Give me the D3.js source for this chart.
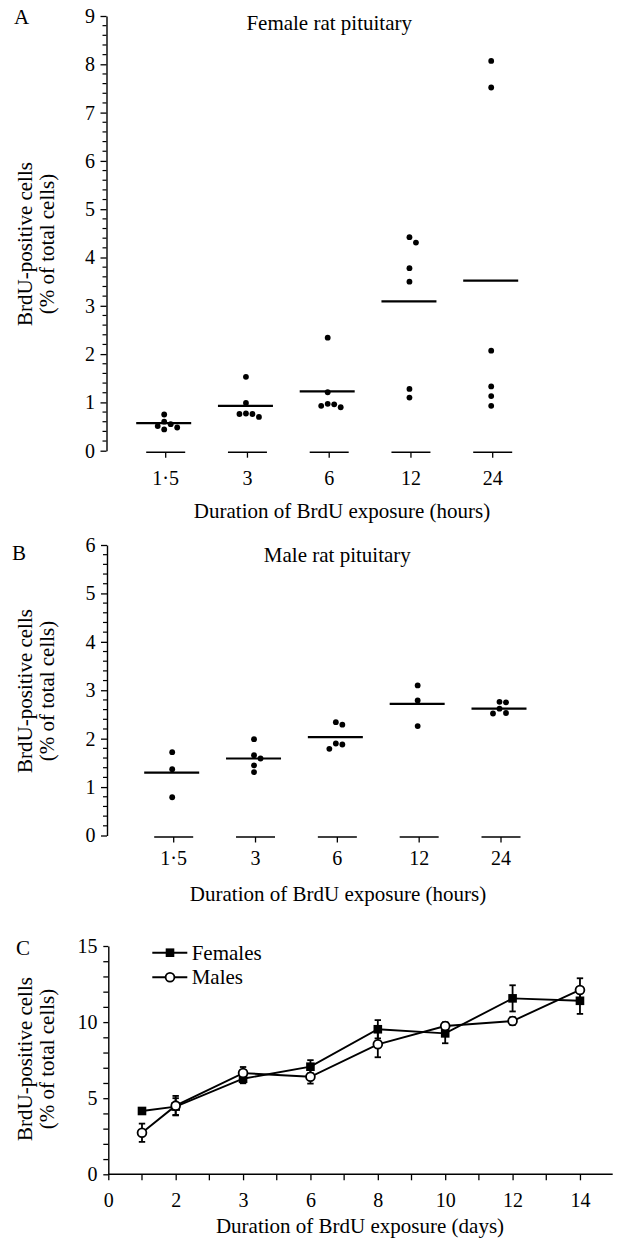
<!DOCTYPE html>
<html><head><meta charset="utf-8">
<script src="https://cdn.jsdelivr.net/npm/d3@7"></script>
<style>
body{margin:0;background:#fff}
text{font-family:"Liberation Serif","Times New Roman",serif;fill:#000}
</style></head>
<body><svg id="chart" width="621" height="1241"></svg>
<script>
// ---------- DATA ----------
const hourCats = ["1·5", "3", "6", "12", "24"];
const femaleValues = [
  [0.75, 0.60, 0.55, 0.51, 0.48, 0.44],
  [1.53, 0.99, 0.77, 0.76, 0.76, 0.70],
  [2.34, 1.21, 0.97, 0.96, 0.93, 0.90],
  [4.42, 4.31, 3.78, 3.50, 1.28, 1.10],
  [8.07, 7.52, 2.07, 1.33, 1.13, 0.93]
];
const femaleMeans = [0.57, 0.93, 1.23, 3.09, 3.52];
const maleValues = [
  [1.72, 1.37, 0.79],
  [1.99, 1.66, 1.59, 1.45, 1.31],
  [2.34, 2.29, 1.90, 1.88, 1.79],
  [3.10, 2.79, 2.26],
  [2.76, 2.75, 2.62, 2.53, 2.52]
];
const maleMeans = [1.30, 1.59, 2.03, 2.72, 2.62];
const yTicksA = [0, 1, 2, 3, 4, 5, 6, 7, 8, 9];
const yTicksB = [0, 1, 2, 3, 4, 5, 6];

const dayTicks = [0, 2, 3, 6, 8, 10, 12, 14];
const days = [1, 2, 3, 6, 8, 10, 12, 14];
const femaleTime = [4.16, 4.45, 6.28, 7.07, 9.53, 9.26, 11.56, 11.40];
const femaleTimeErr = [0.15, 0.55, 0.30, 0.43, 0.60, 0.65, 0.86, 0.86];
const maleTime = [2.73, 4.51, 6.65, 6.41, 8.54, 9.74, 10.07, 12.11];
const maleTimeErr = [0.60, 0.64, 0.40, 0.45, 0.85, 0.25, 0.25, 0.77];
const yTicksC = [0, 5, 10, 15];

// ---------- DRAW ----------
const svg = d3.select("#chart");
svg.append("rect").attr("width", 621).attr("height", 1241).attr("fill", "#fff");

function yTitle(cy) {
  svg.append("text").attr("transform", `translate(32,${cy}) rotate(-90)`)
    .attr("text-anchor", "middle").attr("font-size", 21).text("BrdU-positive cells");
  svg.append("text").attr("transform", `translate(53.5,${cy}) rotate(-90)`)
    .attr("text-anchor", "middle").attr("font-size", 21).text("(% of total cells)");
}

function dotPanel(cfg) {
  const g = svg.append("g");
  const y = d3.scaleLinear().domain([0, cfg.yMax]).range([cfg.y0, cfg.yTop]);
  const x = d3.scalePoint().domain(hourCats).range(cfg.xRange);

  // y axis
  const ax = g.append("g").attr("transform", `translate(${cfg.axisX},0)`)
    .call(d3.axisLeft(y).tickValues(cfg.ticks).tickFormat(d3.format("d"))
      .tickSize(6).tickSizeOuter(0).tickPadding(5.5));
  ax.selectAll("text").attr("font-size", 20).attr("font-family", "Liberation Serif");
  ax.select(".domain").attr("stroke-width", 1.4);
  ax.selectAll(".tick line").attr("stroke-width", 1.3);
  const minor = d3.range(0, cfg.yMax + 0.001, 0.2).filter(v => Math.abs(v - Math.round(v)) > 0.01);
  g.selectAll(".minor").data(minor).join("line")
    .attr("x1", cfg.axisX - 4).attr("x2", cfg.axisX)
    .attr("y1", d => y(d)).attr("y2", d => y(d))
    .attr("stroke", "#000").attr("stroke-width", 1.2);

  // baseline segments + ticks + labels
  hourCats.forEach((c, i) => {
    const cx = x(c), by = cfg.y0 + 1.5;
    g.append("line").attr("x1", cx - 19.5).attr("x2", cx + 19.5).attr("y1", by).attr("y2", by)
      .attr("stroke", "#000").attr("stroke-width", 1.4);
    g.append("line").attr("x1", cx).attr("x2", cx).attr("y1", by).attr("y2", by + 5.5)
      .attr("stroke", "#000").attr("stroke-width", 1.3);
    g.append("text").attr("x", cx).attr("y", cfg.y0 + cfg.labelOff).attr("text-anchor", "middle")
      .attr("font-size", 20).text(c);

    // beeswarm placement of the dots
    const vals = cfg.values[i].slice().sort((a, b) => b - a);
    const placed = [];
    const step = 6.5, minD = 6.2;
    vals.forEach(v => {
      const py = y(v);
      const cands = [0];
      for (let k = 1; k < 6; k++) { cands.push(k * step, -k * step); }
      let off = 0;
      for (const o of cands) {
        if (placed.every(p => Math.hypot(p.x - o, p.y - py) >= minD)) { off = o; break; }
      }
      placed.push({x: off, y: py});
    });
    g.selectAll(null).data(placed).join("circle")
      .attr("cx", d => cx + d.x - 1.5).attr("cy", d => d.y).attr("r", 2.9).attr("fill", "#000");

    // mean line
    g.append("line").attr("x1", cx - 29.5).attr("x2", cx + 25.5)
      .attr("y1", y(cfg.means[i])).attr("y2", y(cfg.means[i]))
      .attr("stroke", "#000").attr("stroke-width", 2.2);
  });

  svg.append("text").attr("x", x("6")).attr("y", cfg.titleY).attr("text-anchor", "middle")
    .attr("font-size", 21).text(cfg.title);
  svg.append("text").attr("x", cfg.xTitleX).attr("y", cfg.xTitleY).attr("text-anchor", "middle")
    .attr("font-size", 21).text("Duration of BrdU exposure (hours)");
  svg.append("text").attr("x", cfg.letterX).attr("y", cfg.letterY).attr("font-size", 21).text(cfg.letter);
  yTitle(cfg.yTitleY);
}

dotPanel({
  values: femaleValues, means: femaleMeans, ticks: yTicksA, yMax: 9,
  y0: 450.7, yTop: 16, axisX: 106.5, xRange: [165.7, 492.7], labelOff: 34.3,
  title: "Female rat pituitary", titleY: 30, xTitleX: 342, xTitleY: 517.5,
  letter: "A", letterX: 14, letterY: 23.5, yTitleY: 244
});
dotPanel({
  values: maleValues, means: maleMeans, ticks: yTicksB, yMax: 6,
  y0: 835.5, yTop: 545, axisX: 107, xRange: [173.7, 501], labelOff: 29.5,
  title: "Male rat pituitary", titleY: 561.5, xTitleX: 338, xTitleY: 900.5,
  letter: "B", letterX: 12, letterY: 560, yTitleY: 691
});

// ---------- Panel C ----------
(function () {
  const g = svg.append("g");
  const x0 = 108.3, stepX = 67.38, xEnd = 612.7;
  const x = d3.scaleLinear().domain(dayTicks).range(dayTicks.map((d, i) => x0 + i * stepX));
  const y = d3.scaleLinear().domain([0, 15]).range([1174.3, 946]);

  const ay = g.append("g").attr("transform", `translate(${x0},0)`)
    .call(d3.axisLeft(y).tickValues(d3.range(0, 16)).tickFormat(d => yTicksC.includes(d) ? d : "")
      .tickSize(5).tickSizeOuter(0).tickPadding(5.8));
  ay.selectAll("text").attr("font-size", 20).attr("font-family", "Liberation Serif");
  ay.select(".domain").attr("stroke-width", 1.4);
  ay.selectAll(".tick line").attr("stroke-width", 1.3);

  const minorX = dayTicks.slice(1).map((d, i) => (dayTicks[i] + d) / 2);
  const ax = g.append("g").attr("transform", `translate(0,${y(0)})`)
    .call(d3.axisBottom(x).tickValues(dayTicks).tickFormat(d3.format("d")).tickSize(6).tickSizeOuter(0));
  ax.select(".domain").remove();
  ax.selectAll(".tick line").attr("stroke-width", 1.3);
  ax.selectAll("text").attr("font-size", 20).attr("font-family", "Liberation Serif")
    .attr("y", 32.4).attr("dy", 0);
  g.append("line").attr("x1", x0).attr("x2", xEnd).attr("y1", y(0)).attr("y2", y(0))
    .attr("stroke", "#000").attr("stroke-width", 1.4);
  g.selectAll(".mx").data(minorX).join("line")
    .attr("x1", d => x(d)).attr("x2", d => x(d)).attr("y1", y(0)).attr("y2", y(0) + 6)
    .attr("stroke", "#000").attr("stroke-width", 1.3);

  const series = [
    {m: femaleTime, e: femaleTimeErr, shape: "square"},
    {m: maleTime, e: maleTimeErr, shape: "circle"}
  ];
  const line = d3.line().x(d => x(d.d)).y(d => y(d.v));
  series.forEach(s => {
    const pts = days.map((d, i) => ({d, v: s.m[i], e: s.e[i]}));
    g.append("path").attr("d", line(pts)).attr("fill", "none").attr("stroke", "#000").attr("stroke-width", 1.9);
    pts.forEach(p => {
      const px = x(p.d);
      g.append("line").attr("x1", px).attr("x2", px).attr("y1", y(p.v - p.e)).attr("y2", y(p.v + p.e))
        .attr("stroke", "#000").attr("stroke-width", 1.8);
      [p.v - p.e, p.v + p.e].forEach(v => g.append("line").attr("x1", px - 3.2).attr("x2", px + 3.2)
        .attr("y1", y(v)).attr("y2", y(v)).attr("stroke", "#000").attr("stroke-width", 1.8));
    });
    pts.forEach(p => {
      const px = x(p.d), py = y(p.v);
      if (s.shape === "square") {
        g.append("rect").attr("x", px - 4.3).attr("y", py - 4.3).attr("width", 8.6).attr("height", 8.6).attr("fill", "#000");
      } else {
        g.append("circle").attr("cx", px).attr("cy", py).attr("r", 4.4)
          .attr("fill", "#fff").attr("stroke", "#000").attr("stroke-width", 1.8);
      }
    });
  });

  // legend
  const lg = [{label: "Females", shape: "square", y: 952.7}, {label: "Males", shape: "circle", y: 977.3}];
  lg.forEach(l => {
    g.append("line").attr("x1", 152.3).attr("x2", 187.3).attr("y1", l.y).attr("y2", l.y)
      .attr("stroke", "#000").attr("stroke-width", 1.9);
    if (l.shape === "square") {
      g.append("rect").attr("x", 170 - 4.3).attr("y", l.y - 4.3).attr("width", 8.6).attr("height", 8.6).attr("fill", "#000");
    } else {
      g.append("circle").attr("cx", 170).attr("cy", l.y).attr("r", 4.4)
        .attr("fill", "#fff").attr("stroke", "#000").attr("stroke-width", 1.8);
    }
    g.append("text").attr("x", 191.7).attr("y", l.y + 7).attr("font-size", 21).text(l.label);
  });

  svg.append("text").attr("x", 360).attr("y", 1233.3).attr("text-anchor", "middle")
    .attr("font-size", 21).text("Duration of BrdU exposure (days)");
  svg.append("text").attr("x", 16).attr("y", 955).attr("font-size", 21).text("C");
  yTitle(1059);
})();
</script></body></html>
